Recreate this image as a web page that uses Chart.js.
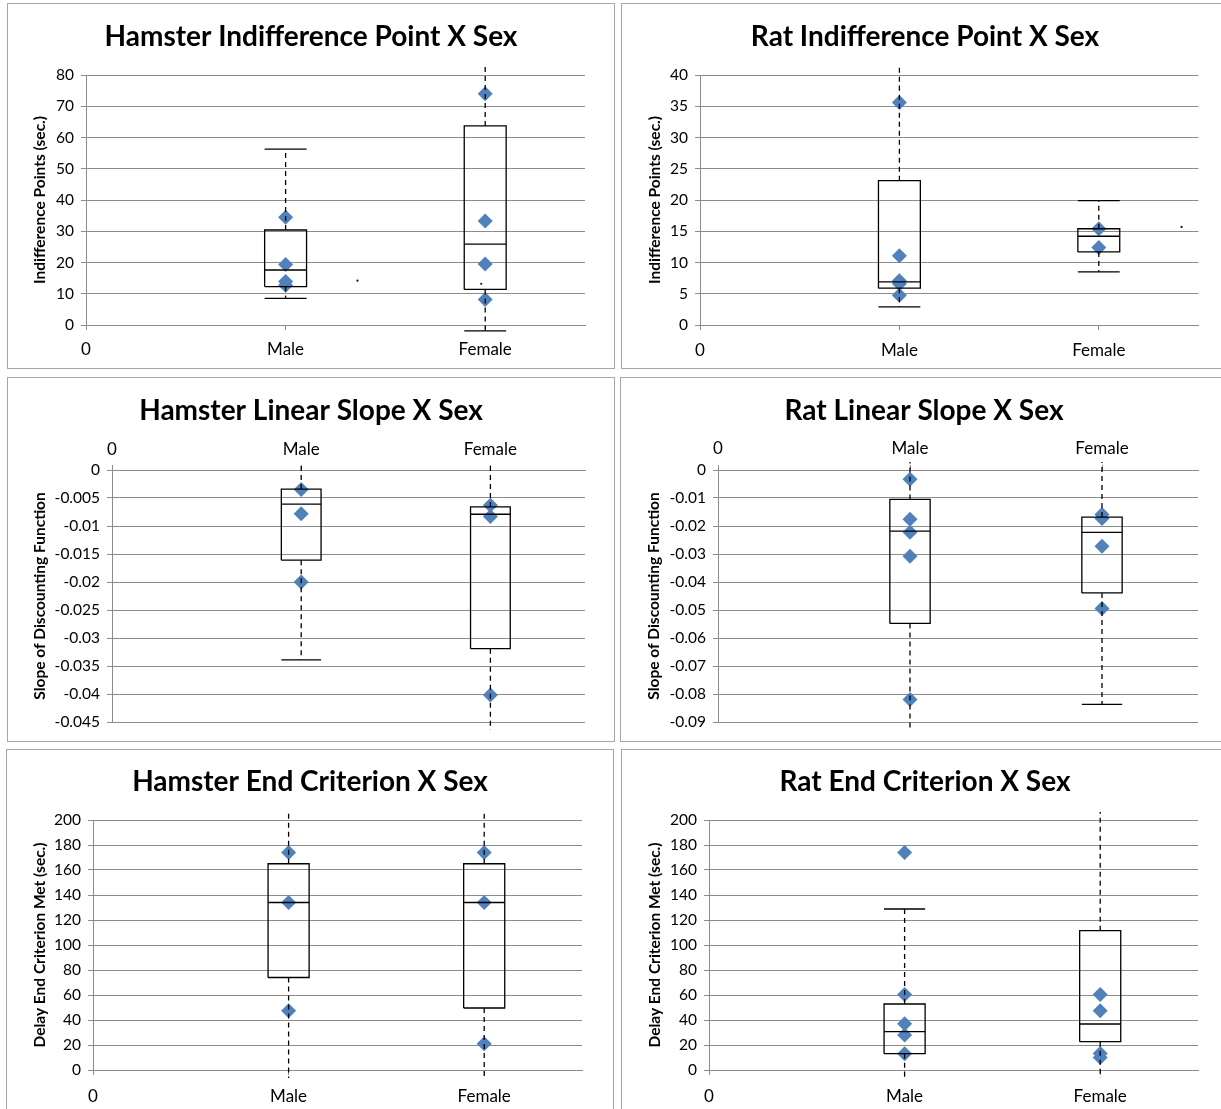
<!DOCTYPE html>
<html>
<head>
<meta charset="utf-8">
<script src="https://cdn.jsdelivr.net/npm/chart.js@4.4.1/dist/chart.umd.min.js"></script>
<style>
  html, body { margin: 0; padding: 0; background: #fff; }
  body { width: 1221px; height: 1109px; overflow: hidden; position: relative; }
  .panel { position: absolute; border: 1px solid #a6a6a6; background: #fff; }
  .panel canvas { display: block; }
</style>
</head>
<body>
<div class="panel" style="left:7px;top:3px;"><canvas id="c1" width="606" height="364"></canvas></div>
<div class="panel" style="left:621px;top:3px;"><canvas id="c2" width="606" height="364"></canvas></div>
<div class="panel" style="left:7px;top:377px;"><canvas id="c3" width="606" height="363"></canvas></div>
<div class="panel" style="left:620px;top:377px;"><canvas id="c4" width="606" height="363"></canvas></div>
<div class="panel" style="left:6px;top:749px;"><canvas id="c5" width="606" height="380"></canvas></div>
<div class="panel" style="left:621px;top:749px;"><canvas id="c6" width="606" height="380"></canvas></div>
<script>
// x tick labels, sitting at x = 0, 1, 2
const sexes = ['0', 'Male', 'Female'];

// box stats are [low whisker, Q1, median, Q3, high whisker]
// Hamster indifference point (sec.)
const hamIndMale = [34.5, 19.4, 13.9, 12.7];
const hamIndFemale = [74.0, 33.3, 19.5, 8.2];
const hamIndMaleBox = [8.5, 12.3, 17.6, 30.4, 56.3];
const hamIndFemaleBox = [-1.9, 11.4, 25.9, 63.7, 95];
const hamIndStrayX = [1.36, 1.98];
const hamIndStrayY = [14.2, 13.2];

// Rat indifference point (sec.)
const ratIndMale = [35.6, 11.1, 7.1, 6.6, 4.75];
const ratIndFemale = [15.4, 12.4];
const ratIndMaleBox = [2.9, 5.9, 6.9, 23.1, 50];
const ratIndFemaleBox = [8.5, 11.7, 14.2, 15.4, 19.9];
const ratIndStrayX = [2.415];
const ratIndStrayY = [15.7];

// Hamster linear slope
const hamSlopeMale = [-0.0035, -0.0078, -0.0200];
const hamSlopeFemale = [-0.0063, -0.0083, -0.0402];
const hamSlopeMaleBox = [-0.0339, -0.0161, -0.0061, -0.0034, 0.005];
const hamSlopeFemaleBox = [-0.06, -0.0319, -0.0079, -0.0066, 0.005];

// Rat linear slope
const ratSlopeMale = [-0.0033, -0.0176, -0.0222, -0.0308, -0.0820];
const ratSlopeFemale = [-0.0159, -0.0173, -0.0272, -0.0495];
const ratSlopeMaleBox = [-0.11, -0.0548, -0.0218, -0.0105, 0.005];
const ratSlopeFemaleBox = [-0.0837, -0.0439, -0.0223, -0.0168, 0.005];

// Hamster end criterion (sec.)
const hamEndMale = [174, 134, 47.5];
const hamEndFemale = [174, 134, 21];
const hamEndMaleBox = [-30, 74, 134, 165, 230];
const hamEndFemaleBox = [-30, 49.6, 134, 165, 230];

// Rat end criterion (sec.)
const ratEndMale = [174, 60.5, 37, 28, 13.1];
const ratEndFemale = [60.5, 47.5, 13.3, 10.1];
const ratEndMaleBox = [-30, 13.1, 30.7, 52.8, 128.8];
const ratEndFemaleBox = [-30, 22.7, 36.8, 111.5, 230];

const GRID = '#8c8c8c';
const BLUE = '#4f81bd';
const FONT = 'Lato';
const HALF = 0.105;   // half box width in x units
const YTITLE_SIZE = 15.5;

function gap(x) { return {x: x, y: null}; }

function boxOutline(boxes) {
  const pts = [];
  boxes.forEach((b, i) => {
    const x = i + 1;
    pts.push({x: x - HALF, y: b[1]}, {x: x + HALF, y: b[1]}, {x: x + HALF, y: b[3]},
             {x: x - HALF, y: b[3]}, {x: x - HALF, y: b[1]}, gap(x));
  });
  return pts;
}
function medians(boxes) {
  const pts = [];
  boxes.forEach((b, i) => {
    const x = i + 1;
    pts.push({x: x - HALF, y: b[2]}, {x: x + HALF, y: b[2]}, gap(x));
  });
  return pts;
}
function whiskers(boxes) {
  const pts = [];
  boxes.forEach((b, i) => {
    const x = i + 1;
    pts.push({x: x, y: b[3]}, {x: x, y: b[4]}, gap(x), {x: x, y: b[1]}, {x: x, y: b[0]}, gap(x));
  });
  return pts;
}
function caps(boxes) {
  const pts = [];
  boxes.forEach((b, i) => {
    const x = i + 1;
    pts.push({x: x - HALF, y: b[4]}, {x: x + HALF, y: b[4]}, gap(x),
             {x: x - HALF, y: b[0]}, {x: x + HALF, y: b[0]}, gap(x));
  });
  return pts;
}

function lineSet(data, extra) {
  return Object.assign({
    data: data, showLine: true, pointRadius: 0, pointHoverRadius: 0,
    borderColor: '#000', borderWidth: 1.3, tension: 0, spanGaps: false, fill: false
  }, extra || {});
}

function drawPanel(id, p, L) {
  const boxes = [p.maleBox, p.femaleBox];
  const points = p.male.map(v => ({x: 1, y: v})).concat(p.female.map(v => ({x: 2, y: v})));
  const datasets = [
    lineSet(boxOutline(boxes)),
    lineSet(medians(boxes)),
    lineSet(whiskers(boxes), {borderDash: [5, 4], clip: 8}),
    lineSet(caps(boxes), {clip: 8}),
    {
      data: points, pointStyle: 'rectRot', pointRadius: 7.5, pointHoverRadius: 7.5,
      backgroundColor: BLUE, borderColor: BLUE, borderWidth: 0
    }
  ];
  if (p.strayX) {
    datasets.push({
      data: p.strayX.map((x, i) => ({x: x, y: p.strayY[i]})),
      pointRadius: 1.1, backgroundColor: '#111', borderColor: '#111', borderWidth: 0
    });
  }
  // same padding on both sides keeps the chart title centred on the panel
  const pad = L.padR;
  const yTitlePad = L.yTitleX - pad - YTITLE_SIZE * 1.2 / 2;
  new Chart(document.getElementById(id), {
    type: 'scatter',
    data: {datasets: datasets},
    options: {
      responsive: false,
      animation: false,
      events: [],
      layout: {padding: {left: pad, right: pad, top: 0, bottom: L.padB || 0}},
      plugins: {
        legend: {display: false},
        tooltip: {enabled: false},
        title: {
          display: true, text: p.title, color: '#000',
          font: {family: FONT, size: 28, weight: 'bold'},
          padding: {top: L.tTop, bottom: L.tBot}
        }
      },
      scales: {
        x: {
          type: 'linear', position: L.xPos, min: 0, max: 2.5,
          afterBuildTicks: s => { s.ticks = sexes.map((_, i) => ({value: i})); },
          ticks: {
            callback: v => sexes[v] !== undefined ? sexes[v] : '',
            font: {family: FONT, size: 17}, color: '#000', padding: L.xPad,
            maxRotation: 0, autoSkip: false
          },
          grid: {drawOnChartArea: false, drawTicks: true, tickLength: 5, color: GRID},
          border: {display: true, color: GRID},
          afterFit: s => { s.height = L.xH; }
        },
        y: {
          min: p.yMin, max: p.yMax,
          ticks: {
            stepSize: p.yStep, font: {family: FONT, size: 15.5}, color: '#000', padding: 7,
            callback: v => String(Number(Number(v).toFixed(6)))
          },
          grid: {color: GRID, lineWidth: 1, tickLength: 5, drawTicks: true},
          border: {display: true, color: GRID},
          title: {
            display: true, text: p.yTitle, color: '#000',
            font: {family: FONT, size: YTITLE_SIZE, weight: 'bold'},
            padding: {top: yTitlePad, bottom: 0}
          },
          afterFit: s => { s.width = L.left - pad; }
        }
      }
    }
  });
}

drawPanel('c1', {
  title: 'Hamster Indifference Point X Sex', yTitle: 'Indifference Points (sec.)',
  yMin: 0, yMax: 80, yStep: 10,
  male: hamIndMale, female: hamIndFemale, maleBox: hamIndMaleBox, femaleBox: hamIndFemaleBox,
  strayX: hamIndStrayX, strayY: hamIndStrayY
}, {left: 78, padR: 29, tTop: 16, tBot: 21.4, xPos: 'bottom', xH: 43, xPad: 9, yTitleX: 32});

drawPanel('c2', {
  title: 'Rat Indifference Point X Sex', yTitle: 'Indifference Points (sec.)',
  yMin: 0, yMax: 40, yStep: 5,
  male: ratIndMale, female: ratIndFemale, maleBox: ratIndMaleBox, femaleBox: ratIndFemaleBox,
  strayX: ratIndStrayX, strayY: ratIndStrayY
}, {left: 78, padR: 29.5, tTop: 16, tBot: 21.4, xPos: 'bottom', xH: 43, xPad: 10, yTitleX: 33});

drawPanel('c3', {
  title: 'Hamster Linear Slope X Sex', yTitle: 'Slope of Discounting Function',
  yMin: -0.045, yMax: 0, yStep: 0.005,
  male: hamSlopeMale, female: hamSlopeFemale, maleBox: hamSlopeMaleBox, femaleBox: hamSlopeFemaleBox
}, {left: 104, padR: 29, padB: 19, tTop: 16, tBot: 12.4, xPos: 'top', xH: 30, xPad: 5, yTitleX: 32});

drawPanel('c4', {
  title: 'Rat Linear Slope X Sex', yTitle: 'Slope of Discounting Function',
  yMin: -0.09, yMax: 0, yStep: 0.01,
  male: ratSlopeMale, female: ratSlopeFemale, maleBox: ratSlopeMaleBox, femaleBox: ratSlopeFemaleBox
}, {left: 97, padR: 29, padB: 19, tTop: 16, tBot: 12.4, xPos: 'top', xH: 30, xPad: 6, yTitleX: 33});

drawPanel('c5', {
  title: 'Hamster End Criterion X Sex', yTitle: 'Delay End Criterion Met (sec.)',
  yMin: 0, yMax: 200, yStep: 20,
  male: hamEndMale, female: hamEndFemale, maleBox: hamEndMaleBox, femaleBox: hamEndFemaleBox
}, {left: 86, padR: 31, tTop: 15, tBot: 21.4, xPos: 'bottom', xH: 60, xPad: 11, yTitleX: 33});

drawPanel('c6', {
  title: 'Rat End Criterion X Sex', yTitle: 'Delay End Criterion Met (sec.)',
  yMin: 0, yMax: 200, yStep: 20,
  male: ratEndMale, female: ratEndFemale, maleBox: ratEndMaleBox, femaleBox: ratEndFemaleBox
}, {left: 87, padR: 30, tTop: 15, tBot: 21.4, xPos: 'bottom', xH: 60, xPad: 11, yTitleX: 33});
</script>
</body>
</html>
